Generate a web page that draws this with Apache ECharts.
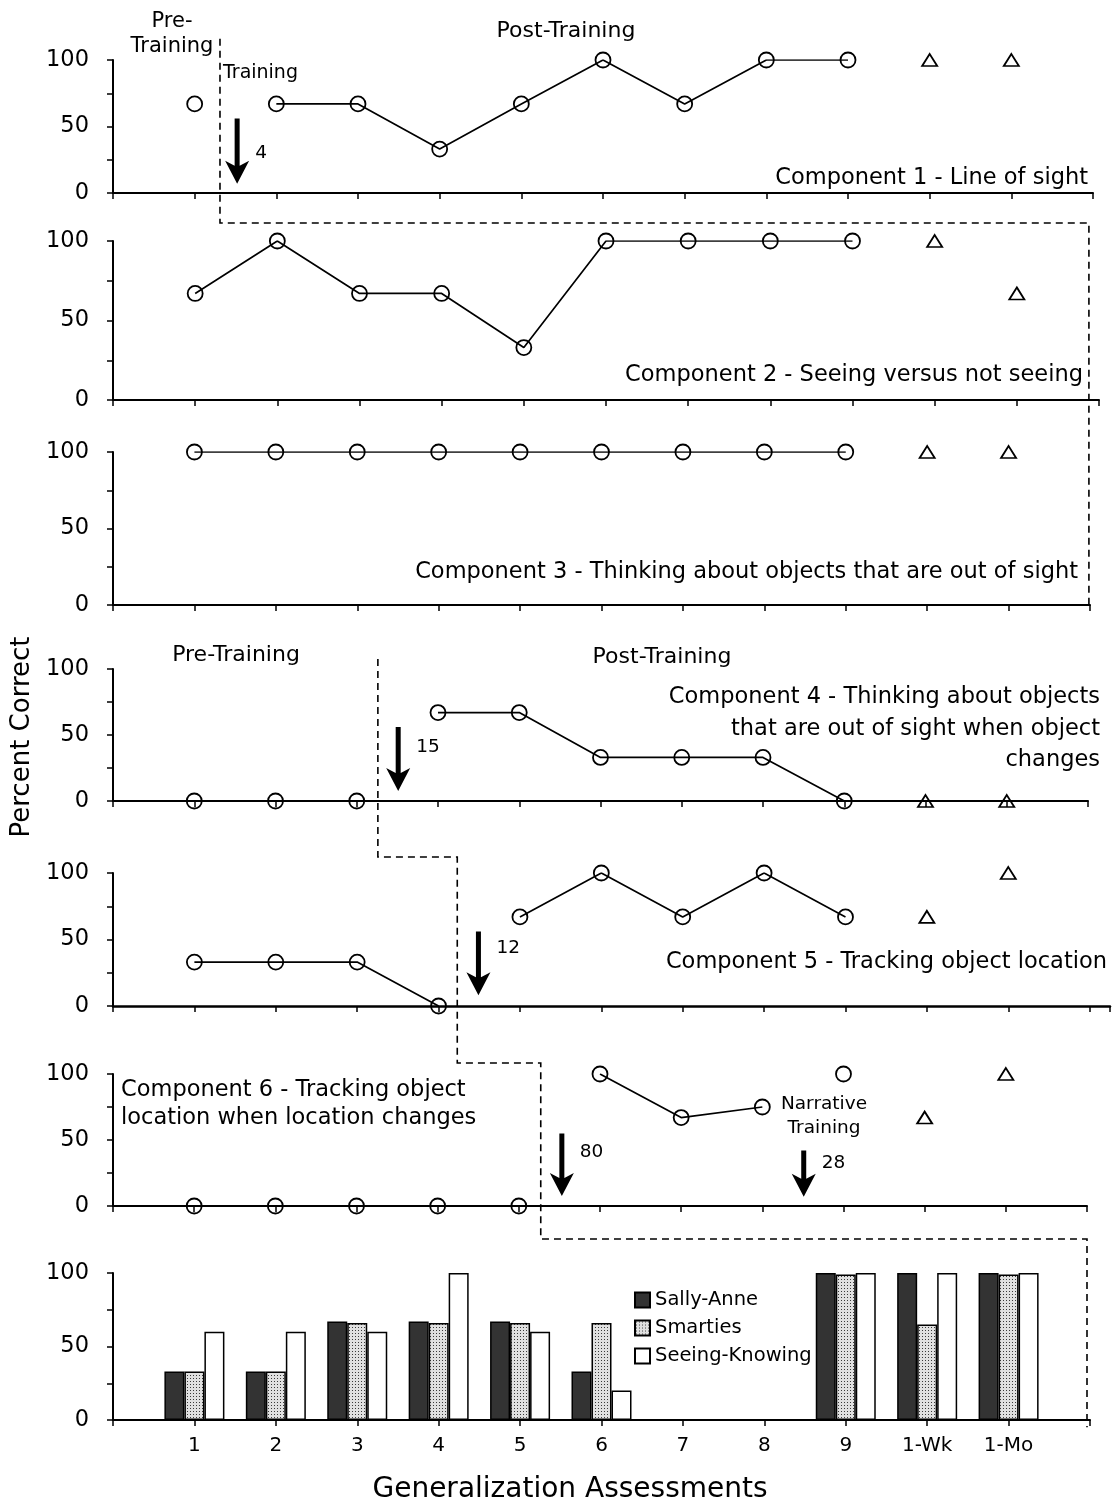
<!DOCTYPE html>
<html><head><meta charset="utf-8">
<script src="https://cdn.jsdelivr.net/npm/echarts@6/dist/echarts.min.js"></script>
<style>html,body{margin:0;padding:0;background:#fff}#c{width:1115px;height:1508px}</style>
</head><body><div id="c"></div>
<script>
// ---------- data ----------
const tickLabels = ['', '1', '2', '3', '4', '5', '6', '7', '8', '9', '1-Wk', '1-Mo', ''];
const categories = ['1', '2', '3', '4', '5', '6', '7', '8', '9', '1-Wk', '1-Mo'];
const N = null;
const comp1Pre      = [67, N, N, N, N, N, N, N, N, N, N];
const comp1Post     = [N, 67, 67, 33, 67, 100, 67, 100, 100, N, N];
const comp1FollowUp = [N, N, N, N, N, N, N, N, N, 100, 100];
const comp2Post     = [67, 100, 67, 67, 33, 100, 100, 100, 100, N, N];
const comp2FollowUp = [N, N, N, N, N, N, N, N, N, 100, 67];
const comp3Post     = [100, 100, 100, 100, 100, 100, 100, 100, 100, N, N];
const comp3FollowUp = [N, N, N, N, N, N, N, N, N, 100, 100];
const comp4Pre      = [0, 0, 0, N, N, N, N, N, N, N, N];
const comp4Post     = [N, N, N, 67, 67, 33, 33, 33, 0, N, N];
const comp4FollowUp = [N, N, N, N, N, N, N, N, N, 0, 0];
const comp5Pre      = [33, 33, 33, 0, N, N, N, N, N, N, N];
const comp5Post     = [N, N, N, N, 67, 100, 67, 100, 67, N, N];
const comp5FollowUp = [N, N, N, N, N, N, N, N, N, 67, 100];
const comp6Pre      = [0, 0, 0, 0, 0, N, N, N, N, N, N];
const comp6Post     = [N, N, N, N, N, 100, 67, 75, N, N, N];
const comp6Narrative= [N, N, N, N, N, N, N, N, 100, N, N];
const comp6FollowUp = [N, N, N, N, N, N, N, N, N, 67, 100];
const sallyAnne     = [33, 33, 67, 67, 67, 33, N, N, 100, 100, 100];
const smarties      = [33, 33, 66, 66, 66, 66, N, N, 99, 65, 99];
const seeingKnowing = [60, 60, 60, 100, 60, 20, N, N, 100, 100, 100];
const barNames = ['Sally-Anne', 'Smarties', 'Seeing-Knowing'];
// training arrows: panel, x position (assessment scale), top, tip, label, label y
const arrows = [
  {panel: 0, x: 1.52, top: 56, tip: 7, label: '4', ly: 30},
  {panel: 3, x: 3.51, top: 56, tip: 7.6, label: '15', ly: 41},
  {panel: 4, x: 4.49, top: 56, tip: 8, label: '12', ly: 43.6},
  {panel: 5, x: 5.53, top: 55, tip: 7.6, label: '80', ly: 41},
  {panel: 5, x: 8.51, top: 42, tip: 7, label: '28', ly: 32.6}
];

// ---------- chart ----------
const FONT = 'DejaVu Sans';
const chart = echarts.init(document.getElementById('c'));
const grids = [
  {left: 113, top: 60, width: 980, height: 133},
  {left: 113, top: 241, width: 986, height: 159},
  {left: 113, top: 452, width: 977, height: 153},
  {left: 113, top: 669, width: 975, height: 132},
  {left: 113, top: 873, width: 997, height: 133},
  {left: 113, top: 1074, width: 974, height: 132},
  {left: 113, top: 1273, width: 977, height: 147}
];
const xMax = [12, 12, 12, 12, 12.25, 12, 12];

const xAxes = grids.map((g, i) => ({
  type: 'value', gridIndex: i, min: 0, max: xMax[i], interval: 1,
  axisLine: {lineStyle: {color: '#000', width: i === 4 ? 2.5 : 2}},
  axisTick: {show: true, length: 6, lineStyle: {color: '#000', width: 1.5}},
  splitLine: {show: false},
  axisLabel: {
    show: i === 6, margin: 16, color: '#000', fontFamily: FONT, fontSize: 20,
    formatter: v => (Number.isInteger(v) && tickLabels[v]) ? tickLabels[v] : ''
  }
}));
const yAxes = grids.map((g, i) => ({
  type: 'value', gridIndex: i, min: 0, max: 100, interval: 25,
  axisLine: {show: true, lineStyle: {color: '#000', width: 2}},
  axisTick: {show: true, length: 6, lineStyle: {color: '#000', width: 1.5}},
  splitLine: {show: false},
  axisLabel: {margin: 24, color: '#000', fontFamily: FONT, fontSize: 22.5,
    formatter: v => (v % 50 === 0 ? String(v) : '')}
}));

function pts(arr) {
  const out = [];
  arr.forEach((v, k) => { if (v !== null) out.push([k + 1, v]); });
  return out;
}
const markStyle = {color: 'rgba(0,0,0,0)', borderColor: '#000', borderWidth: 1.8, opacity: 1};
function lineS(panel, arr) {
  return {type: 'line', xAxisIndex: panel, yAxisIndex: panel, data: pts(arr),
    symbol: 'circle', symbolSize: 15, itemStyle: markStyle, emphasis: {disabled: true},
    lineStyle: {color: '#000', width: 1.7}, z: 3};
}
function circS(panel, arr) {
  return {type: 'scatter', xAxisIndex: panel, yAxisIndex: panel, data: pts(arr),
    symbol: 'circle', symbolSize: 15, itemStyle: markStyle, emphasis: {disabled: true}, z: 3};
}
function triS(panel, arr) {
  return {type: 'scatter', xAxisIndex: panel, yAxisIndex: panel, data: pts(arr),
    symbol: 'triangle', symbolSize: [15, 12], itemStyle: markStyle, emphasis: {disabled: true}, z: 3};
}

// dotted pattern
const pat = document.createElement('canvas');
pat.width = 3; pat.height = 3;
const pctx = pat.getContext('2d');
pctx.fillStyle = '#e0e0e0'; pctx.fillRect(0, 0, 3, 3);
pctx.fillStyle = '#3a3a3a'; pctx.fillRect(1, 1, 1, 1);

function barS(name, arr, color) {
  return {type: 'bar', name: name, xAxisIndex: 6, yAxisIndex: 6, data: pts(arr),
    barWidth: 20, barGap: '0%', emphasis: {disabled: true},
    itemStyle: {color: color, borderColor: '#000', borderWidth: 1.5}};
}

const series = [
  circS(0, comp1Pre), lineS(0, comp1Post), triS(0, comp1FollowUp),
  lineS(1, comp2Post), triS(1, comp2FollowUp),
  lineS(2, comp3Post), triS(2, comp3FollowUp),
  lineS(3, comp4Pre), lineS(3, comp4Post), triS(3, comp4FollowUp),
  lineS(4, comp5Pre), lineS(4, comp5Post), triS(4, comp5FollowUp),
  lineS(5, comp6Pre), lineS(5, comp6Post), circS(5, comp6Narrative), triS(5, comp6FollowUp),
  barS(barNames[0], sallyAnne, '#333333'),
  barS(barNames[1], smarties, {image: pat, repeat: 'repeat'}),
  barS(barNames[2], seeingKnowing, '#ffffff')
];

chart.setOption({
  animation: false,
  backgroundColor: '#fff',
  grid: grids,
  xAxis: xAxes,
  yAxis: yAxes,
  legend: {
    data: barNames, orient: 'vertical', left: 629, top: 1285,
    itemWidth: 15, itemHeight: 15, itemGap: 8, icon: 'rect',
    textStyle: {fontFamily: FONT, fontSize: 19.5, color: '#000'}
  },
  series: series
});

// ---------- annotations ----------
const P = (g, x, y) => chart.convertToPixel({gridIndex: g}, [x, y]);
const pt = (xg, x, yg, y) => [P(xg, x, 0)[0], P(yg, 0, y)[1]];
const dash = {stroke: '#000', lineWidth: 1.6, lineDash: [7, 5], fill: null};
const graphics = [];
graphics.push({type: 'polyline', silent: true, z: 10, style: dash, shape: {points: [
  pt(0, 1.31, 0, 116), pt(0, 1.31, 0, -22.5), pt(0, 11.95, 0, -22.5), pt(0, 11.95, 2, 0)
]}});
graphics.push({type: 'polyline', silent: true, z: 10, style: dash, shape: {points: [
  pt(3, 3.26, 3, 107.5), pt(3, 3.26, 4, 112), pt(4, 4.23, 4, 112), pt(4, 4.23, 5, 108.3),
  pt(5, 5.27, 5, 108.3), pt(5, 5.27, 5, -25), pt(5, 12, 5, -25), pt(5, 12, 6, -5)
]}});
arrows.forEach(a => {
  const top = P(a.panel, a.x, a.top), tip = P(a.panel, a.x, a.tip);
  const cx = top[0], yT = top[1], yB = tip[1], yH = yB - 18;
  graphics.push({type: 'polygon', silent: true, z: 10, style: {fill: '#000'}, shape: {points: [
    [cx - 2.5, yT], [cx + 2.5, yT], [cx + 2.5, yH], [cx + 12, yH - 5], [cx, yB], [cx - 12, yH - 5], [cx - 2.5, yH]
  ]}});
  const lp = P(a.panel, a.x, a.ly);
  graphics.push({type: 'text', silent: true, z: 10, x: cx + 18, y: lp[1],
    style: {text: a.label, font: '18.5px "' + FONT + '"', fill: '#000', textAlign: 'left', textVerticalAlign: 'middle'}});
});
function txt(text, x, y, size, align, lh) {
  graphics.push({type: 'text', silent: true, z: 10, x: x, y: y,
    style: {text: text, font: size + 'px "' + FONT + '"', fill: '#000', textAlign: align,
      textVerticalAlign: 'middle', lineHeight: lh || Math.round(size * 1.2)}});
}
txt('Pre-\nTraining', 172, 34, 21, 'center', 25);
txt('Post-Training', 566, 31, 22, 'center');
txt('Training', 223, 73, 19, 'left');
txt('Component 1 - Line of sight', 1088, 178, 22.5, 'right');
txt('Component 2 - Seeing versus not seeing', 1083, 375, 22.5, 'right');
txt('Component 3 - Thinking about objects that are out of sight', 1078, 572, 22.5, 'right');
txt('Pre-Training', 236, 655, 22, 'center');
txt('Post-Training', 662, 657, 22, 'center');
txt('Component 4 - Thinking about objects\nthat are out of sight when object\nchanges', 1100, 729, 22.5, 'right', 31.5);
txt('Component 5 - Tracking object location', 1107, 962, 22.5, 'right');
txt('Component 6 - Tracking object\nlocation when location changes', 121, 1104, 22.5, 'left', 28);
txt('Narrative\nTraining', 824, 1116, 18.5, 'center', 24);
txt('Generalization Assessments', 570, 1490, 28, 'center');
graphics.push({type: 'text', silent: true, z: 10, x: 22, y: 737, rotation: Math.PI / 2,
  style: {text: 'Percent Correct', font: '26px "' + FONT + '"', fill: '#000', textAlign: 'center', textVerticalAlign: 'middle'}});
chart.setOption({graphic: graphics});
</script></body></html>
